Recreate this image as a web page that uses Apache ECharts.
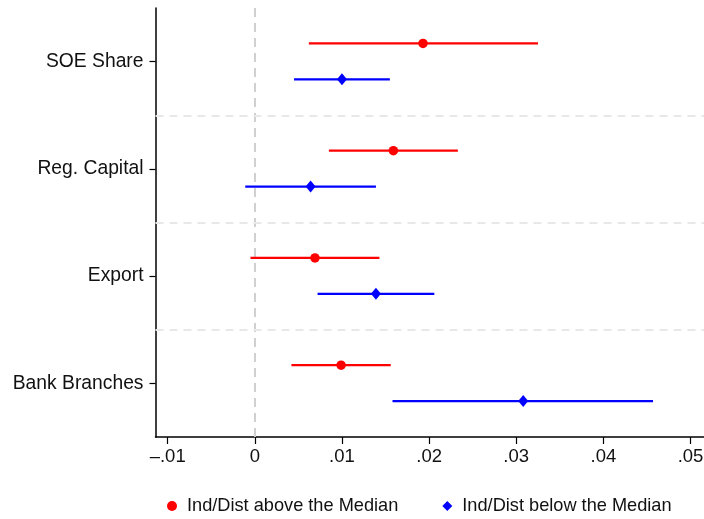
<!DOCTYPE html>
<html>
<head>
<meta charset="utf-8">
<script src="https://cdn.jsdelivr.net/npm/echarts@6/dist/echarts.min.js"></script>
<style>
html,body{margin:0;padding:0;background:#fff;}
#chart{width:704px;height:519px;}
</style>
</head>
<body>
<div id="chart"></div>
<script>
const categories = ['SOE Share', 'Reg. Capital', 'Export', 'Bank Branches'];
const seriesNames = ['Ind/Dist above the Median', 'Ind/Dist below the Median'];
const aboveEst = [0.0193, 0.0159, 0.0069, 0.0099];
const aboveLow = [0.0062, 0.0085, -0.0005, 0.0042];
const aboveHigh = [0.0325, 0.0233, 0.0143, 0.0156];
const belowEst = [0.0100, 0.0064, 0.0139, 0.0308];
const belowLow = [0.0045, -0.0011, 0.0072, 0.0158];
const belowHigh = [0.0155, 0.0139, 0.0206, 0.0457];
const xTicks = [-0.01, 0, 0.01, 0.02, 0.03, 0.04, 0.05];

const FONT = '"Liberation Sans", Arial, Helvetica, sans-serif';
const RED = '#ff0000', BLUE = '#0000ff';
const OFF_ABOVE = -0.17, OFF_BELOW = 0.165;

function fmt(v) {
  if (Math.abs(v) < 1e-12) return '0';
  const s = Math.abs(v).toFixed(2).replace(/^0/, '');
  return (v < 0 ? '\u2013' : '') + s;
}

function ciData(low, high, off) {
  return categories.map((c, i) => [low[i], high[i], i + 0.5 + off]);
}
function ptData(est, off) {
  return categories.map((c, i) => [est[i], i + 0.5 + off]);
}
function ciSeries(name, low, high, off, color) {
  return {
    type: 'custom', name: name, silent: true, z: 2,
    data: ciData(low, high, off),
    encode: { x: [0, 1], y: 2 },
    renderItem: function (params, api) {
      const a = api.coord([api.value(0), api.value(2)]);
      const b = api.coord([api.value(1), api.value(2)]);
      return { type: 'line', shape: { x1: a[0], y1: a[1], x2: b[0], y2: b[1] },
               style: { stroke: color, lineWidth: 2.2 } };
    }
  };
}

const chart = echarts.init(document.getElementById('chart'), null, { renderer: 'canvas' });
const catTicks = categories.map((c, i) => i + 0.5);
const separators = categories.slice(1).map((c, i) => ({ yAxis: i + 1 }));

chart.setOption({
  animation: false,
  backgroundColor: '#fff',
  textStyle: { fontFamily: FONT },
  grid: { left: 155.5, right: 0, top: 8, bottom: 82, containLabel: false, outerBoundsMode: 'none' },
  legend: {
    left: 162, top: 492,
    itemWidth: 10, itemHeight: 10, itemGap: 44,
    textStyle: { fontFamily: FONT, fontSize: 18.2, color: '#111', padding: [0, 0, 0, 5] },
    data: [{ name: seriesNames[0], icon: 'circle' }, { name: seriesNames[1], icon: 'diamond' }]
  },
  xAxis: {
    type: 'value', min: -0.0114, max: 0.05155, position: 'bottom',
    axisLine: { show: true, onZero: false, lineStyle: { color: '#000', width: 1.5 } },
    axisTick: { show: true, length: 7, lineStyle: { color: '#000', width: 1.2 }, customValues: xTicks },
    axisLabel: { show: true, customValues: xTicks, formatter: fmt, fontSize: 18.5, color: '#111', margin: 10, fontFamily: FONT },
    splitLine: { show: false }
  },
  yAxis: {
    type: 'value', inverse: true, min: 0, max: 4, position: 'left',
    axisLine: { show: true, onZero: false, lineStyle: { color: '#000', width: 1.5 } },
    axisTick: { show: true, length: 6, lineStyle: { color: '#000', width: 1.2 }, customValues: catTicks },
    axisLabel: { show: true, customValues: catTicks, fontSize: 19.3, color: '#111', margin: 12, fontFamily: FONT,
      formatter: function (v) { return categories[Math.round(v - 0.5)]; } },
    splitLine: { show: false }
  },
  series: [
    ciSeries('ci_above', aboveLow, aboveHigh, OFF_ABOVE, RED),
    ciSeries('ci_below', belowLow, belowHigh, OFF_BELOW, BLUE),
    {
      type: 'scatter', name: seriesNames[0], z: 3,
      symbol: 'circle', symbolSize: 9.5,
      itemStyle: { color: RED, opacity: 1 },
      data: ptData(aboveEst, OFF_ABOVE),
      markLine: {
        silent: true, symbol: 'none', label: { show: false }, z: 1,
        lineStyle: { color: '#d0d0d0', width: 2, type: [9, 6], opacity: 1 },
        data: [{ xAxis: 0 }].concat(separators.map(s => Object.assign({
          lineStyle: { color: '#e8e8e8', width: 2, type: [8, 6] } }, s)))
      }
    },
    {
      type: 'scatter', name: seriesNames[1], z: 3,
      symbol: 'diamond', symbolSize: [10, 12],
      itemStyle: { color: BLUE, opacity: 1 },
      data: ptData(belowEst, OFF_BELOW)
    }
  ]
});
</script>
</body>
</html>
